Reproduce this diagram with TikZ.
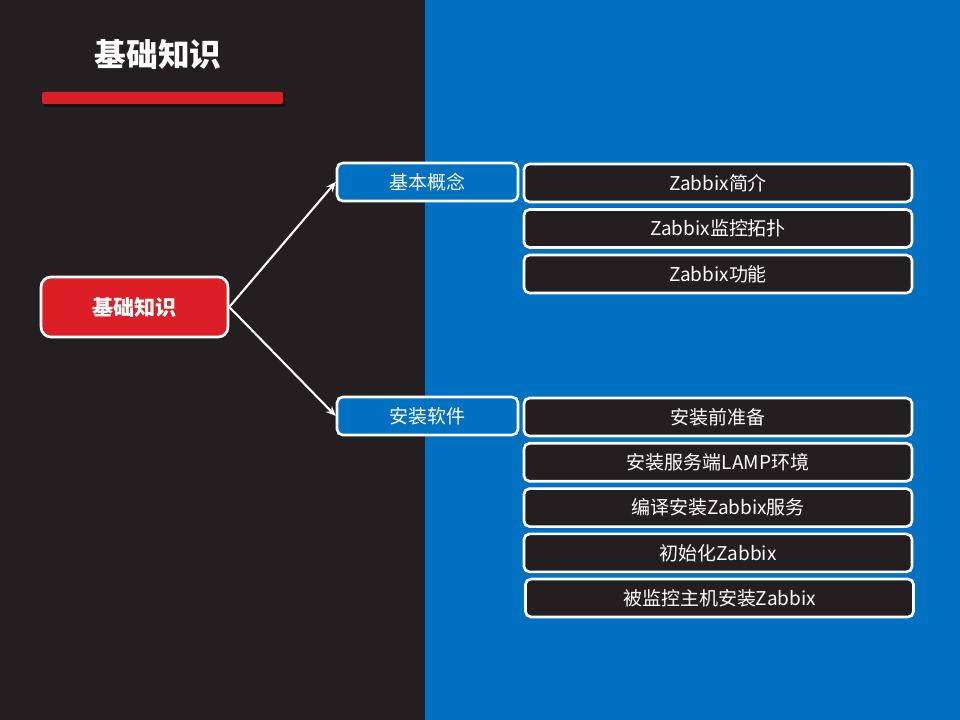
\documentclass[tikz,border=0pt]{standalone}
\usepackage{fontspec}
\setmainfont{Noto Sans CJK SC}
\usetikzlibrary{arrows.meta}
\definecolor{bgdark}{HTML}{231F20}
\definecolor{bgblue}{HTML}{0070C0}
\definecolor{mainred}{HTML}{DC1F26}
\begin{document}
\begin{tikzpicture}[x=0.025cm,y=-0.025cm,
    box/.style = {rectangle,rounded corners=4pt,draw=white,line width=1.9pt,text=white,
                  minimum height=0.95cm,inner sep=0pt,font=\fontsize{13.5}{16}\selectfont},
    topic/.style = {box,fill=bgblue,minimum width=4.52cm},
    item/.style = {box,fill=bgdark,minimum width=9.7cm},
    link/.style = {draw=white,line width=1.5pt,-{Stealth[length=7pt,width=6pt]}}]
\useasboundingbox (0,0) rectangle (960,720);
\fill[bgdark] (0,0) rectangle (425,720);
\fill[bgblue] (425,0) rectangle (960,720);
% title and bar
\node[text=white,font=\fontsize{22.5}{26}\bfseries] (title) at (158,54) {基础知识};
\fill[black,opacity=0.45,rounded corners=1.5pt] (44,94) rectangle (285,107);
\fill[mainred,rounded corners=1.5pt] (42,92) rectangle (283,104);
% tree
\node[box,fill=mainred,rounded corners=7pt,minimum width=4.67cm,minimum height=1.5cm,
      font=\fontsize{15}{18}\bfseries] (root) at (134.5,307) {基础知识};
\node[topic] (concept) at (427.5,182) {基本概念};
\node[topic] (install) at (427.5,416) {安装软件};
\draw[link] (root.east) -- (concept.west);
\draw[link] (root.east) -- (install.west);
\foreach \t [count=\j from 0] in {Zabbix简介, Zabbix监控拓扑, Zabbix功能}
    \node[item] (c\j) at (718,183+45.5*\j) {\t};
\foreach \t [count=\j from 0] in {安装前准备, 安装服务端LAMP环境, 编译安装Zabbix服务, 初始化Zabbix}
    \node[item] (s\j) at (718,417+45.3*\j) {\t};
\node[item] (s4) at (719.5,598) {被监控主机安装Zabbix};
\end{tikzpicture}
\end{document}
